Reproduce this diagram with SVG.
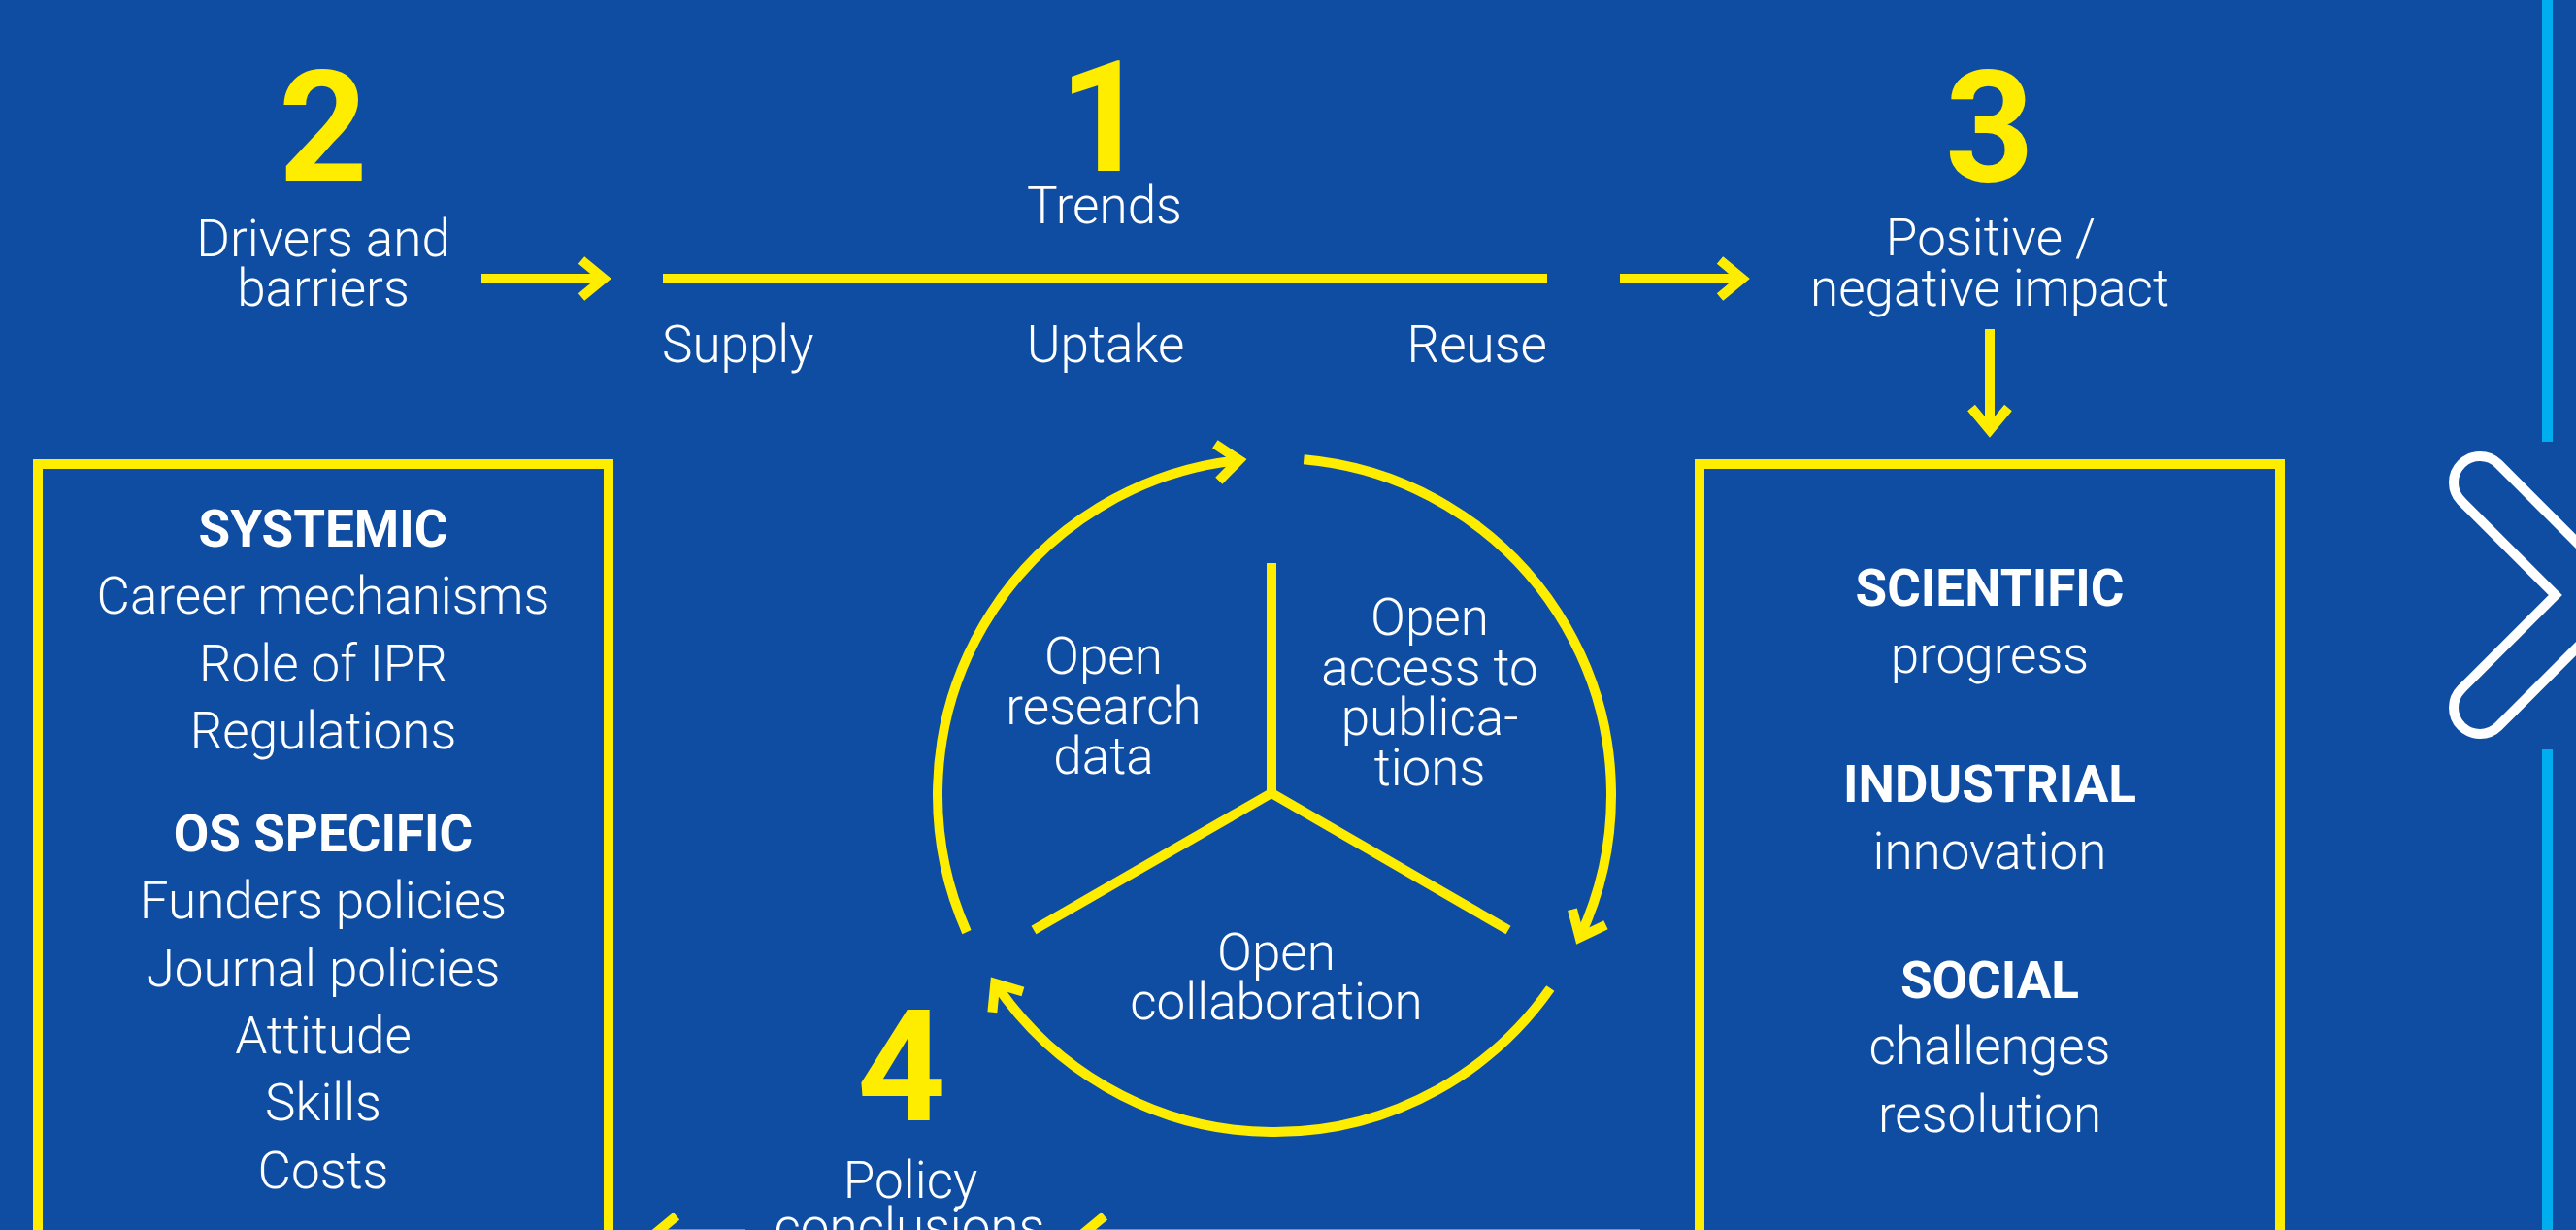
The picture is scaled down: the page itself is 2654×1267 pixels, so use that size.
<svg xmlns="http://www.w3.org/2000/svg" width="2654" height="1267" viewBox="0 0 2654 1267">
  <defs>
    <style>
      .bg{fill:#0E4DA1}
      .t{font-family:Roboto,"Liberation Sans",sans-serif;font-weight:300;font-size:53px;fill:#FFFFFF;text-anchor:middle}
      .b{font-weight:700}
      .num{font-family:Roboto,"Liberation Sans",sans-serif;font-weight:700;font-size:160px;fill:#FFED00;text-anchor:middle}
      .ys{fill:none;stroke:#FFED00;stroke-width:10}
      .conn{fill:none;stroke:#FFED00;stroke-width:10;marker-end:url(#head)}
      .cyan{fill:#00AEEF}
    </style>
    <!-- open chevron arrowhead shared by every connector -->
    <marker id="head" markerUnits="userSpaceOnUse" viewBox="-40 -30 50 60" refX="0" refY="0" markerWidth="50" markerHeight="60" orient="auto">
      <path d="M-23 -19 L0 0 L-23 19" fill="none" stroke="#FFED00" stroke-width="10" stroke-miterlimit="10"/>
    </marker>
  </defs>

  <rect class="bg" x="0" y="0" width="2654" height="1267"/>

  <!-- 1: trends bar -->
  <g id="node-trends">
    <text class="num" x="1137" y="176">1</text>
    <text class="t" x="1138" y="230">Trends</text>
    <line class="ys" x1="683" y1="287" x2="1594" y2="287"/>
    <text class="t" x="682" y="373" style="text-anchor:start">Supply</text>
    <text class="t" x="1139" y="373">Uptake</text>
    <text class="t" x="1594" y="373" style="text-anchor:end">Reuse</text>
  </g>

  <!-- 2: drivers and barriers -->
  <g id="node-drivers">
    <text class="num" x="333" y="186">2</text>
    <text class="t" x="333" y="264">Drivers and</text>
    <text class="t" x="333" y="315">barriers</text>
  </g>

  <g id="box-drivers">
    <rect class="ys" x="39" y="478" width="588" height="900"/>
    <text class="t b" x="333" y="563">SYSTEMIC</text>
    <text class="t" x="333" y="632">Career mechanisms</text>
    <text class="t" x="333" y="702">Role of IPR</text>
    <text class="t" x="333" y="771">Regulations</text>
    <text class="t b" x="333" y="877">OS SPECIFIC</text>
    <text class="t" x="333" y="946">Funders policies</text>
    <text class="t" x="333" y="1016">Journal policies</text>
    <text class="t" x="333" y="1085">Attitude</text>
    <text class="t" x="333" y="1154">Skills</text>
    <text class="t" x="333" y="1224">Costs</text>
  </g>

  <!-- 3: impact -->
  <g id="node-impact">
    <text class="num" x="2050" y="186">3</text>
    <text class="t" x="2051" y="263">Positive /</text>
    <text class="t" x="2050" y="315">negative impact</text>
  </g>

  <g id="box-impact">
    <rect class="ys" x="1751" y="478" width="598" height="900"/>
    <text class="t b" x="2050" y="624">SCIENTIFIC</text>
    <text class="t" x="2050" y="693">progress</text>
    <text class="t b" x="2050" y="826">INDUSTRIAL</text>
    <text class="t" x="2050" y="895">innovation</text>
    <text class="t b" x="2050" y="1028">SOCIAL</text>
    <text class="t" x="2050" y="1096">challenges</text>
    <text class="t" x="2050" y="1166">resolution</text>
  </g>

  <!-- 4: policy conclusions -->
  <g id="node-policy">
    <text class="num" x="929" y="1154">4</text>
    <text class="t" x="938" y="1234">Policy</text>
    <text class="t" x="937" y="1282">conclusions</text>
  </g>

  <!-- central open-science wheel -->
  <g id="node-cycle">
    <line class="ys" x1="1310" y1="817" x2="1310" y2="580"/>
    <line class="ys" x1="1310" y1="817" x2="1065" y2="958"/>
    <line class="ys" x1="1310" y1="817" x2="1554" y2="958"/>
    <g id="node-open-data">
      <text class="t" x="1137" y="694">Open</text>
      <text class="t" x="1137" y="746">research</text>
      <text class="t" x="1137" y="797">data</text>
    </g>
    <g id="node-open-access">
      <text class="t" x="1473" y="654">Open</text>
      <text class="t" x="1473" y="706">access to</text>
      <text class="t" x="1473" y="757">publica-</text>
      <text class="t" x="1473" y="809">tions</text>
    </g>
    <g id="node-open-collab">
      <text class="t" x="1315" y="999">Open</text>
      <text class="t" x="1315" y="1050">collaboration</text>
    </g>
  </g>

  <!-- side navigation chevron -->
  <g id="nav">
    <rect class="cyan" x="2619" y="0" width="11" height="455"/>
    <rect class="cyan" x="2619" y="772" width="11" height="495"/>
    <path d="M2709 613 L2574.1 477.9 A27 27 0 0 0 2535.9 516.1 L2632.8 613 L2535.9 709.9 A27 27 0 0 0 2574.1 748.1 Z" fill="none" stroke="#FFFFFF" stroke-width="10" stroke-linejoin="miter"/>
  </g>

  <!-- connectors -->
  <g id="connectors">
    <line class="conn" x1="496" y1="287" x2="622" y2="287"/>
    <line class="conn" x1="1669" y1="287" x2="1795" y2="287"/>
    <line class="conn" x1="2050" y1="339" x2="2050" y2="443"/>
    <path class="conn" d="M996 960.1 A347 347 0 0 1 1276.7 473.9"/>
    <path class="conn" d="M1343.3 473.3 A347 347 0 0 1 1627.5 965.6"/>
    <path class="conn" d="M1597.3 1018 A347 347 0 0 1 1025.3 1013"/>
    <line class="conn" x1="768" y1="1271.6" x2="674" y2="1271.6"/>
    <line class="conn" x1="1690" y1="1271.6" x2="1115" y2="1271.6"/>
  </g>
</svg>
